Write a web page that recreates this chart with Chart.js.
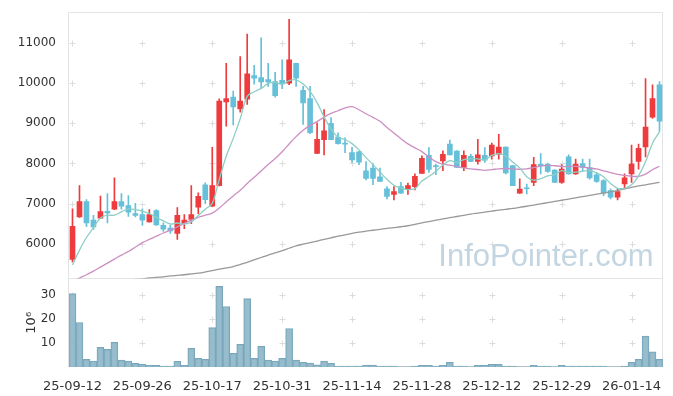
<!DOCTYPE html>
<html><head><meta charset="utf-8">
<script src="https://cdn.jsdelivr.net/npm/chart.js@4/dist/chart.umd.min.js"></script>
<style>html,body{margin:0;padding:0;background:#fff;}canvas{display:block;}</style>
</head><body>
<canvas id="c" width="673" height="396"></canvas>
<script>
const dates = ['25-09-12','25-09-15','25-09-16','25-09-17','25-09-18','25-09-19','25-09-22','25-09-23','25-09-24','25-09-25',
'25-09-26','25-09-29','25-09-30','25-10-01','25-10-02','25-10-10','25-10-13','25-10-14','25-10-15','25-10-16',
'25-10-17','25-10-20','25-10-21','25-10-22','25-10-23','25-10-24','25-10-27','25-10-28','25-10-29','25-10-30',
'25-10-31','25-11-03','25-11-04','25-11-05','25-11-06','25-11-07','25-11-10','25-11-11','25-11-12','25-11-13',
'25-11-14','25-11-17','25-11-18','25-11-19','25-11-20','25-11-21','25-11-24','25-11-25','25-11-26','25-11-27',
'25-11-28','25-12-01','25-12-02','25-12-03','25-12-04','25-12-05','25-12-08','25-12-09','25-12-10','25-12-11',
'25-12-12','25-12-15','25-12-16','25-12-17','25-12-18','25-12-19','25-12-22','25-12-23','25-12-24','25-12-26',
'25-12-29','25-12-30','26-01-02','26-01-05','26-01-06','26-01-07','26-01-08','26-01-09','26-01-12','26-01-13',
'26-01-14','26-01-15','26-01-16','26-01-19','26-01-20'];

const opens = [5615,6670,7050,6590,6640,6810,6860,7050,6950,6750,
6730,6545,6830,6460,6390,6260,6500,6610,6910,7470,
6940,7450,9530,9650,9360,9600,10190,10140,10090,10040,
10070,10000,10490,9820,9615,8250,8590,9000,8660,8510,
8270,8290,7820,7885,7670,7370,7230,7425,7345,7425,
7755,8205,7945,8065,8480,8310,7900,8175,8050,8205,
8190,8230,8410,7945,7260,7390,7530,7985,7985,7835,
7530,8165,7740,8000,7900,7720,7575,7325,7160,7490,
7740,8050,8410,9155,9960];

const highs = [6870,7450,7100,6710,7190,7250,7640,7250,7200,7010,
6870,6850,6850,6520,6460,6900,6730,7450,7270,7520,
8400,9610,10490,9800,10660,11220,10440,11130,10490,10270,
10580,11590,10500,9920,9920,9010,9340,9140,8765,8640,
8400,8310,8050,8000,7885,7425,7425,7530,7510,7740,
8190,8395,7985,8315,8585,8320,8315,8230,8600,8395,
8505,8725,8415,7950,7615,7490,8150,8245,8010,7850,
7970,8215,8110,8110,8110,7780,7600,7370,7370,7740,
8460,8480,10115,9960,10040];

const lows = [5550,6660,6430,6360,6640,6520,6850,6860,6680,6670,
6460,6540,6460,6310,6260,6110,6380,6500,6750,7000,
6930,7440,8930,8960,9280,9470,9975,9880,9920,9650,
9860,9960,9920,8970,8740,8245,8215,8590,8480,8270,
8025,7970,7590,7475,7550,7120,7095,7255,7230,7340,
7750,7780,7720,7820,8210,7900,7820,8045,7985,8025,
8110,8110,7740,7445,7255,7245,7450,7740,7780,7530,
7505,7735,7730,7820,7610,7530,7200,7120,7095,7365,
7530,7860,8165,9120,8800];

const closes = [6437,7050,6520,6420,6800,6770,7050,6940,6790,6710,
6590,6725,6470,6365,6320,6710,6590,6730,7180,7100,
7450,9550,9615,9410,9550,10230,10120,10030,10030,9690,
9990,10580,10120,9510,8765,8600,8810,8595,8495,8480,
8090,8030,7630,7630,7555,7180,7300,7260,7450,7680,
8125,7855,7920,8230,8215,7900,8205,8050,8215,8085,
8460,8410,7765,7450,7365,7370,7970,7945,7800,7530,
7860,7740,7985,7900,7640,7555,7260,7160,7300,7640,
7985,8380,8905,9615,9055];

// volume in millions of shares
const volumes = [30.7,18.6,3.2,2.5,8.2,7.4,10.3,2.9,2.5,1.5,
1.1,0.7,0.7,0.4,0.4,2.4,0.7,7.8,3.6,3.2,
16.5,33.7,25.3,5.7,9.5,28.6,3.6,8.6,2.9,2.5,
3.6,16.1,2.9,2.0,1.6,0.9,2.5,1.5,0.4,0.4,
0.4,0.4,0.8,0.8,0.4,0.4,0.4,0.1,0.1,0.4,
0.7,0.7,0.4,0.7,2.0,0.4,0.4,0.1,0.7,0.7,
1.1,1.1,0.4,0.4,0.1,0.1,0.7,0.4,0.4,0.1,
0.7,0.4,0.4,0.4,0.4,0.4,0.4,0.1,0.1,0.4,
2.0,3.2,12.9,6.3,3.2];

const ma5 = [5474,5844,6158,6405,6645,6712,6712,6796,6870,6852,
6816,6751,6657,6572,6494,6518,6491,6543,6706,6862,
7010,7602,8179,8625,9115,9671,9785,9868,9992,10020,
9972,10064,10082,9978,9793,9515,9161,8856,8653,8596,
8494,8338,8145,7972,7787,7605,7459,7385,7349,7374,
7563,7674,7806,7962,8069,8024,8094,8120,8117,8091,
8203,8244,8187,8034,7890,7672,7584,7620,7690,7723,
7821,7775,7783,7803,7825,7764,7668,7503,7383,7383,
7469,7693,8042,8505,8788];

const ma20 = [5070,5150,5230,5320,5420,5520,5620,5720,5810,5920,
6030,6110,6190,6270,6340,6420,6510,6590,6660,6713,
6764,6889,7044,7193,7331,7504,7657,7812,7974,8123,
8293,8486,8668,8825,8948,9042,9153,9246,9312,9381,
9413,9337,9238,9149,9049,8897,8756,8617,8488,8388,
8294,8158,8048,7984,7957,7922,7891,7864,7850,7830,
7849,7868,7875,7866,7856,7866,7899,7933,7951,7943,
7930,7924,7928,7911,7882,7865,7818,7773,7728,7705,
7682,7680,7737,7845,7930];

const ma60 = [4950,4970,4990,5010,5030,5045,5060,5080,5100,5115,
5130,5150,5165,5180,5200,5215,5230,5250,5270,5300,
5335,5368,5400,5432,5485,5540,5600,5660,5720,5775,
5830,5890,5950,5990,6030,6070,6110,6150,6190,6225,
6260,6290,6315,6338,6360,6385,6405,6425,6450,6485,
6520,6555,6590,6620,6650,6680,6710,6740,6765,6790,
6815,6840,6860,6880,6910,6935,6965,6995,7025,7055,
7085,7115,7145,7175,7205,7235,7265,7295,7325,7370,
7405,7440,7470,7500,7530];

const tickLabels = ['25-09-12','25-09-26','25-10-17','25-10-31','25-11-14','25-11-28','25-12-12','25-12-29','26-01-14'];
const priceTicks = [6000,7000,8000,9000,10000,11000];
const volumeTicks = [10,20,30];

const RED = '#ee3b3d';
const BLUE = '#66c0d9';
const candleColors = opens.map((o, i) => closes[i] >= o ? RED : BLUE);

const framePlugin = {
  id: 'frame',
  beforeDatasetsDraw(chart) {
    const {ctx, chartArea, scales} = chart;
    const x = scales.x, y = scales.y, yv = scales.yv;
    ctx.save();
    // watermark
    ctx.font = '31px "Liberation Sans", Arial, sans-serif';
    ctx.fillStyle = 'rgba(188,208,222,0.9)';
    ctx.textAlign = 'center';
    ctx.textBaseline = 'alphabetic';
    ctx.fillText('InfoPointer.com', chartArea.right - 117, y.bottom - 13);
    // grid crosses
    ctx.strokeStyle = '#dcdcdc';
    ctx.lineWidth = 1;
    const xs = [];
    dates.forEach((d, i) => { if (tickLabels.includes(d)) xs.push(Math.round(x.getPixelForValue(i)) + 0.5); });
    const ys = priceTicks.map(v => Math.round(y.getPixelForValue(v)) + 0.5)
      .concat(volumeTicks.map(v => Math.round(yv.getPixelForValue(v)) + 0.5));
    ctx.beginPath();
    xs.forEach(px => ys.forEach(py => {
      ctx.moveTo(px - 3, py); ctx.lineTo(px + 3, py);
      ctx.moveTo(px, py - 3); ctx.lineTo(px, py + 3);
    }));
    ctx.stroke();
    // frame
    ctx.strokeStyle = '#e4e4e4';
    ctx.beginPath();
    const l = Math.round(chartArea.left) - 0.5, r = Math.round(chartArea.right) - 0.5;
    const t = Math.round(chartArea.top) + 0.5, b = Math.round(chartArea.bottom) - 0.5;
    const mid = Math.round(y.bottom) - 0.5;
    ctx.moveTo(l, t); ctx.lineTo(r, t); ctx.lineTo(r, b);
    ctx.moveTo(l, t); ctx.lineTo(l, b);
    ctx.moveTo(l, mid); ctx.lineTo(r, mid);
    ctx.stroke();
    ctx.strokeStyle = '#cfcfcf';
    ctx.beginPath();
    ctx.moveTo(l, b); ctx.lineTo(r, b);
    ctx.stroke();
    ctx.restore();
  }
};

const tickFont = {family: '"DejaVu Sans", sans-serif', size: 12};

new Chart(document.getElementById('c'), {
  type: 'bar',
  data: {
    labels: dates,
    datasets: [
      {type: 'line', label: 'MA5', data: ma5, borderColor: '#8dcfc5', borderWidth: 1.3, pointRadius: 0, tension: 0.35, yAxisID: 'y', order: 1},
      {type: 'line', label: 'MA20', data: ma20, borderColor: '#cc8fc3', borderWidth: 1.3, pointRadius: 0, tension: 0.35, yAxisID: 'y', order: 1},
      {type: 'line', label: 'MA60', data: ma60, borderColor: '#999999', borderWidth: 1.3, pointRadius: 0, tension: 0.35, yAxisID: 'y', order: 1},
      {type: 'bar', label: 'body', data: opens.map((o, i) => [o, closes[i]]), backgroundColor: candleColors, barThickness: 5, minBarLength: 1, grouped: false, yAxisID: 'y', order: 2},
      {type: 'bar', label: 'wick', data: lows.map((lo, i) => [lo, highs[i]]), backgroundColor: candleColors, barThickness: 1, grouped: false, yAxisID: 'y', order: 3},
      {type: 'bar', label: 'volume', data: volumes, backgroundColor: 'rgba(140,182,200,0.9)', borderColor: '#78a6bb', borderWidth: 1, barPercentage: 1, categoryPercentage: 1, grouped: false, yAxisID: 'yv', order: 4}
    ]
  },
  options: {
    responsive: false,
    animation: false,
    devicePixelRatio: 1,
    layout: {padding: {top: 10, right: 10, left: 0, bottom: 0}},
    plugins: {legend: {display: false}, tooltip: {enabled: false}},
    scales: {
      x: {
        type: 'category', offset: true,
        grid: {display: false}, border: {display: false},
        ticks: {
          autoSkip: false, maxRotation: 0, minRotation: 0, padding: 4,
          font: {family: '"DejaVu Sans", sans-serif', size: 13}, color: '#333',
          callback: function (v) { const lab = this.getLabelForValue(v); return tickLabels.includes(lab) ? lab : ''; }
        },
        afterFit(s) { s.height = 29; }
      },
      y: {
        position: 'left', stack: 'main', stackWeight: 268, weight: 2,
        min: 5136, max: 11765,
        grid: {display: false}, border: {display: false},
        afterBuildTicks(s) { s.ticks = priceTicks.map(v => ({value: v})); },
        ticks: {padding: 5, font: tickFont, color: '#333', callback: v => String(v)},
        afterFit(s) { s.width = 69; }
      },
      yv: {
        position: 'left', stack: 'main', stackWeight: 89, weight: 1,
        min: 0, max: 37,
        grid: {display: false}, border: {display: false},
        afterBuildTicks(s) { s.ticks = volumeTicks.map(v => ({value: v})); },
        ticks: {padding: 5, font: tickFont, color: '#333', callback: v => String(v)},
        title: {display: true, text: '10⁶', color: '#333', font: {family: '"DejaVu Sans", sans-serif', size: 13}, padding: {top: 24, bottom: 0}},
        afterFit(s) { s.width = 69; }
      }
    }
  },
  plugins: [framePlugin]
});
</script>
</body></html>
